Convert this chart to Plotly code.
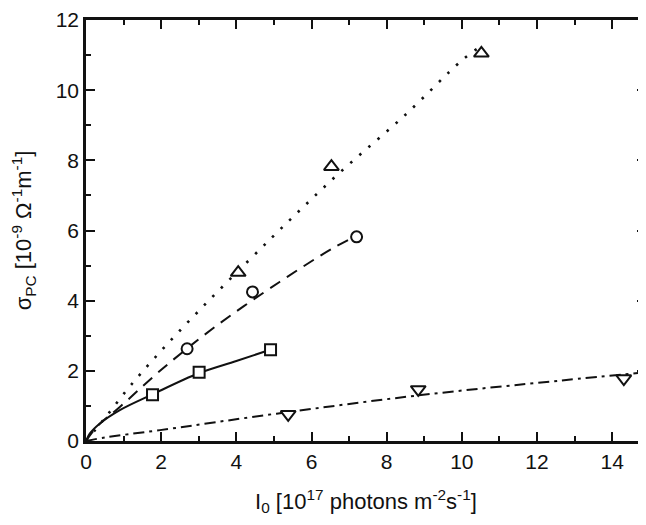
import plotly.graph_objects as go

# ---- data ----
tri_up_x = [4.05, 6.53, 10.52]
tri_up_y = [4.8, 7.82, 11.05]
circ_x = [2.69, 4.43, 7.2]
circ_y = [2.63, 4.25, 5.82]
sq_x = [1.77, 3.01, 4.91]
sq_y = [1.32, 1.96, 2.6]
tri_dn_x = [5.38, 8.84, 14.31]
tri_dn_y = [0.76, 1.47, 1.78]

# fitted curves
fit_up_x = [0, 0.5, 1.2, 2.5, 4.9, 6.7, 8.5, 10.0, 10.5]
fit_up_y = [0, 0.65, 1.6, 3.15, 5.75, 7.6, 9.3, 10.85, 11.25]
fit_circ_x = [0, 0.3, 0.9, 1.97, 3.39, 5.16, 6.53, 7.2]
fit_circ_y = [0, 0.42, 0.97, 2.0, 3.22, 4.54, 5.47, 5.85]
fit_sq_x = [0, 0.1, 0.37, 0.9, 1.77, 3.0, 4.0, 4.9]
fit_sq_y = [0, 0.21, 0.5, 0.88, 1.33, 1.93, 2.28, 2.6]
fit_dn_x = [0, 0.5, 1.97, 5.07, 8.84, 12.6, 14.9]
fit_dn_y = [0, 0.1, 0.31, 0.78, 1.3, 1.72, 1.96]

x_ticks = [0, 2, 4, 6, 8, 10, 12, 14]
y_ticks = [0, 2, 4, 6, 8, 10, 12]

FONT = "Liberation Sans, Arial, sans-serif"
INK = "#111111"

fig = go.Figure()

line_common = dict(color=INK, width=2)
fig.add_trace(go.Scatter(x=fit_up_x, y=fit_up_y, mode="lines", line_shape="spline",
                         line=dict(color=INK, width=2.6, dash="2.5px,9.5px"), showlegend=False))
fig.add_trace(go.Scatter(x=fit_circ_x, y=fit_circ_y, mode="lines", line_shape="spline",
                         line=dict(**line_common, dash="12px,8px"), showlegend=False))
fig.add_trace(go.Scatter(x=fit_sq_x, y=fit_sq_y, mode="lines", line_shape="spline",
                         line=dict(**line_common), showlegend=False))
fig.add_trace(go.Scatter(x=fit_dn_x, y=fit_dn_y, mode="lines", line_shape="spline",
                         line=dict(**line_common, dash="11px,5px,3px,5px"), showlegend=False))

mk_line = dict(color=INK, width=2)
fig.add_trace(go.Scatter(x=tri_up_x, y=tri_up_y, mode="markers", showlegend=False,
                         marker=dict(symbol="triangle-up", size=13, color="white", line=mk_line)))
fig.add_trace(go.Scatter(x=circ_x, y=circ_y, mode="markers", showlegend=False,
                         marker=dict(symbol="circle", size=11, color="white", line=mk_line)))
fig.add_trace(go.Scatter(x=sq_x, y=sq_y, mode="markers", showlegend=False,
                         marker=dict(symbol="square", size=11, color="white", line=mk_line)))
fig.add_trace(go.Scatter(x=tri_dn_x, y=tri_dn_y, mode="markers", showlegend=False,
                         marker=dict(symbol="triangle-down", size=13, color="white", line=mk_line)))
# helper trace for the right-hand tick axis
fig.add_trace(go.Scatter(x=[None], y=[None], yaxis="y2", showlegend=False, hoverinfo="skip"))

tick_font = dict(family=FONT, size=21, color=INK)
title_font = dict(family=FONT, size=22, color=INK)

fig.update_layout(
    width=638, height=517,
    margin=dict(l=78, r=0, t=7, b=84),
    paper_bgcolor="white", plot_bgcolor="white",
    showlegend=False,
    xaxis=dict(
        range=[0, 14.9], tickvals=x_ticks, ticktext=[str(v) for v in x_ticks],
        ticks="inside", ticklen=9, tickwidth=2, tickcolor=INK,
        minor=dict(dtick=1, tick0=0, ticks="inside", ticklen=5, tickwidth=2, tickcolor=INK),
        showline=True, linewidth=2.5, linecolor=INK, mirror="ticks",
        showgrid=False, zeroline=False, tickfont=tick_font, ticklabeloverflow="allow",
        title=dict(text="I<sub>0</sub> [10<sup>17</sup> photons m<sup>-2</sup>s<sup>-1</sup>]",
                   font=title_font, standoff=22),
    ),
    yaxis=dict(
        range=[0, 12], tickvals=y_ticks, ticktext=[str(v) for v in y_ticks],
        ticks="inside", ticklen=9, tickwidth=2, tickcolor=INK,
        minor=dict(dtick=1, tick0=0, ticks="inside", ticklen=5, tickwidth=2, tickcolor=INK),
        showline=True, linewidth=2.5, linecolor=INK, mirror=False,
        showgrid=False, zeroline=False, tickfont=tick_font, ticklabeloverflow="allow",
        title=dict(text="σ<sub>PC</sub> [10<sup>-9</sup> Ω<sup>-1</sup>m<sup>-1</sup>]",
                   font=title_font, standoff=24),
    ),
    yaxis2=dict(
        overlaying="y", side="right", range=[0, 12], tickvals=y_ticks,
        ticks="inside", ticklen=9, tickwidth=2, tickcolor=INK,
        minor=dict(dtick=1, tick0=0, ticks="inside", ticklen=5, tickwidth=2, tickcolor=INK),
        showticklabels=False, showline=False, showgrid=False, zeroline=False,
    ),
)

fig.write_html("out.html")
